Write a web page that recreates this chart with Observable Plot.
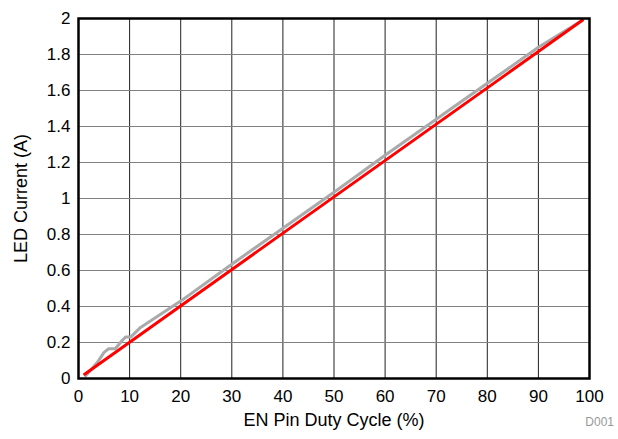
<!DOCTYPE html>
<html>
<head>
<meta charset="utf-8">
<script src="https://cdn.jsdelivr.net/npm/d3@7"></script>
<script src="https://cdn.jsdelivr.net/npm/@observablehq/plot@0.6"></script>
<style>
  html, body { margin: 0; padding: 0; background: #fff; }
  #chart svg { display: block; }
</style>
</head>
<body>
<div id="chart"></div>
<script>
// Measured LED current (gray) vs EN pin duty cycle
const measuredDuty = [1.4, 2.5, 3.7, 5.0, 5.9, 7.2, 8.5, 9.2, 10.2, 12, 20, 30, 40, 50, 60, 70, 80, 90, 98.6];
const measuredCurrent = [0.015, 0.05, 0.09, 0.145, 0.165, 0.165, 0.21, 0.23, 0.23, 0.28, 0.43, 0.635, 0.835, 1.035, 1.24, 1.44, 1.64, 1.84, 1.99];
// Ideal line (red)
const idealDuty = [1.2, 98.6];
const idealCurrent = [0.024, 1.99];

const xTicks = [0, 10, 20, 30, 40, 50, 60, 70, 80, 90, 100];
const yTicks = [0, 0.2, 0.4, 0.6, 0.8, 1, 1.2, 1.4, 1.6, 1.8, 2];

const measured = measuredDuty.map((d, i) => ({d, c: measuredCurrent[i]}));
const ideal = idealDuty.map((d, i) => ({d, c: idealCurrent[i]}));

const chart = Plot.plot({
  width: 618,
  height: 439,
  marginLeft: 78,
  marginRight: 29,
  marginTop: 18,
  marginBottom: 61,
  style: {fontFamily: "'Liberation Sans', Arial, sans-serif", fontSize: "17px", color: "#000", background: "#fff"},
  x: {domain: [0, 100]},
  y: {domain: [0, 2]},
  marks: [
    Plot.ruleX(xTicks, {stroke: "#222", strokeWidth: 1}),
    Plot.ruleY(yTicks, {stroke: "#808080", strokeWidth: 1}),
    Plot.line(measured, {x: "d", y: "c", stroke: "#aaaaaa", strokeWidth: 3, curve: "linear"}),
    Plot.line(ideal, {x: "d", y: "c", stroke: "#ff0000", strokeWidth: 3}),
    Plot.frame({stroke: "#000", strokeWidth: 2.5}),
    Plot.axisX({ticks: xTicks, tickSize: 0, tickPadding: 11, fontSize: 17, label: null}),
    Plot.axisY({ticks: yTicks, tickSize: 0, tickPadding: 8, fontSize: 17, label: null, tickFormat: d => String(+d.toFixed(1))}),
    Plot.axisX({ticks: [], label: "EN Pin Duty Cycle (%)", labelAnchor: "center", labelArrow: "none", labelOffset: 47, fontSize: 18}),
    Plot.axisY({ticks: [], label: "LED Current (A)", labelAnchor: "center", labelArrow: "none", labelOffset: 64, fontSize: 18})
  ]
});

d3.select(chart).append("text")
  .attr("x", 614).attr("y", 426)
  .attr("text-anchor", "end")
  .attr("fill", "#999")
  .attr("font-size", 12)
  .text("D001");

document.getElementById("chart").appendChild(chart);
</script>
</body>
</html>
